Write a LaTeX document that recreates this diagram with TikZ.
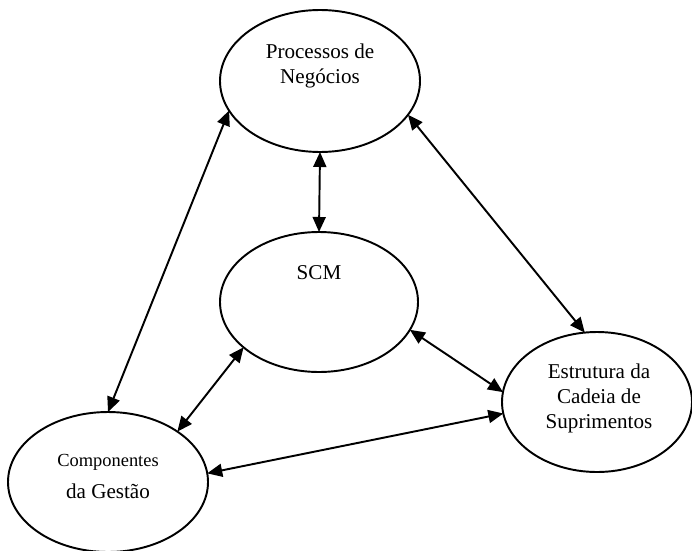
\documentclass[tikz,border=0pt]{standalone}
\usepackage{fontspec}
\setmainfont{Liberation Serif}
\usetikzlibrary{arrows.meta,shapes.geometric}
\tikzstyle{bubble} = [draw, ellipse, line width=1.1pt, minimum width=4cm, minimum height=2.8cm, inner sep=0pt, outer sep=0pt]
\tikzstyle{link} = [line width=1.1pt, {Triangle[length=3mm,width=2.6mm]}-{Triangle[length=3mm,width=2.6mm]}]
\tikzstyle{txt} = [align=center, font=\fontsize{12}{14.2}\selectfont]

\begin{document}
\begin{tikzpicture}
\useasboundingbox (0,0) rectangle (13.84,-11);

% The four bubbles
\node[bubble, minimum height=2.84cm] (proc) at (6.40,-1.62) {};
\node[bubble, minimum width=3.96cm] (scm) at (6.38,-6.04) {};
\node[bubble, minimum width=3.8cm] (estr) at (11.94,-8.04) {};
\node[bubble] (comp) at (2.16,-9.64) {};

% Labels
\node[txt] (proctxt) at (6.40,-1.31) {Processos de\\Negócios};
\node[txt] (scmtxt) at (6.38,-5.46) {SCM};
\node[txt] (estrtxt) at (11.98,-7.96) {Estrutura da\\Cadeia de\\Suprimentos};
\node[txt] (comptxt) at (2.16,-9.52) {{\fontsize{10.5}{12}\selectfont Componentes}\\[4pt]da Gestão};

% Links
\draw[link] (proc.198) -- (comp.90);
\draw[link] (proc.270) -- (scm.90);
\draw[link] (proc.339) -- (estr.100);
\draw[link] (scm.343) -- (estr.174);
\draw[link] (scm.211) -- (comp.36);
\draw[link] (comp.5) -- (estr.187);
\end{tikzpicture}
\end{document}
